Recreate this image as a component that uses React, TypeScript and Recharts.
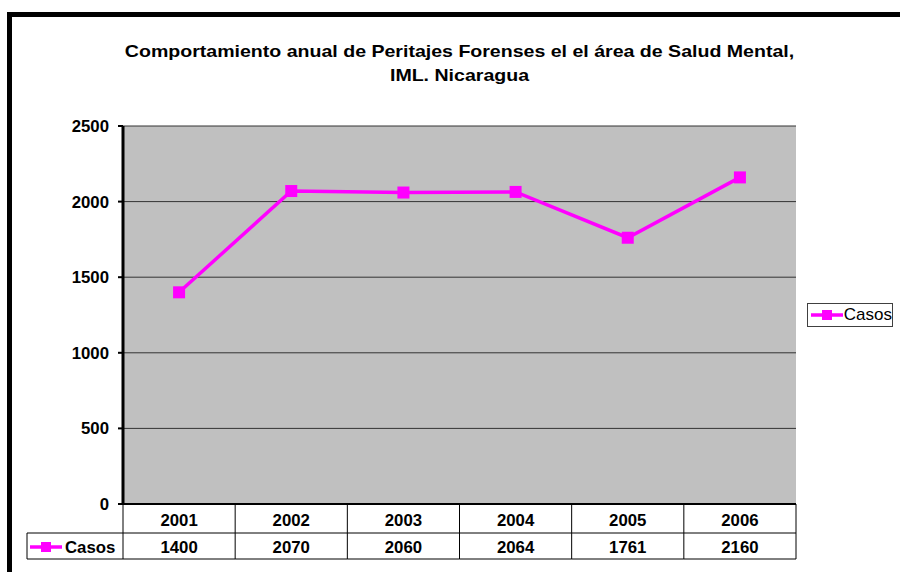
import React from 'react';
import { LineChart, Line, XAxis, YAxis, CartesianGrid, Legend } from 'recharts';

const years = ['2001', '2002', '2003', '2004', '2005', '2006'];
const casos = [1400, 2070, 2060, 2064, 1761, 2160];
const yTicks = [0, 500, 1000, 1500, 2000, 2500];
const seriesName = 'Casos';

const data = years.map((year, i) => ({ year, casos: casos[i] }));

const FONT = '"Liberation Sans", Arial, sans-serif';
const MAGENTA = '#FF00FF';
const LABEL_SIZE = 16.8;

// plot geometry
const PLOT_LEFT = 123;
const PLOT_RIGHT = 796;
const PLOT_BOTTOM = 504;
const ROW1 = 533;
const ROW2 = 559;
const TABLE_LEFT = 27;
const BAND = (PLOT_RIGHT - PLOT_LEFT) / years.length;

const SquareDot = (props: any) => {
  const { cx, cy, index } = props;
  return <rect key={`dot-${index}`} x={cx - 6} y={cy - 6} width={12} height={12} fill={MAGENTA} />;
};

const LegendKey = ({ x, y }: { x: number; y: number }) => (
  <g>
    <line x1={x} y1={y} x2={x + 32} y2={y} stroke={MAGENTA} strokeWidth={3.5} />
    <rect x={x + 11} y={y - 5} width={10} height={10} fill={MAGENTA} />
  </g>
);

// Each x tick draws its column of the data table
const TableTick = (props: any) => {
  const { x, payload } = props;
  const i = payload.index;
  const left = x - BAND / 2;
  const right = x + BAND / 2;
  return (
    <g>
      {i === 0 && (
        <g>
          <line x1={TABLE_LEFT} y1={ROW1} x2={PLOT_LEFT} y2={ROW1} stroke="#000" />
          <line x1={TABLE_LEFT} y1={ROW2} x2={PLOT_LEFT} y2={ROW2} stroke="#000" />
          <line x1={TABLE_LEFT} y1={ROW1} x2={TABLE_LEFT} y2={ROW2} stroke="#000" />
          <line x1={PLOT_LEFT} y1={PLOT_BOTTOM} x2={PLOT_LEFT} y2={ROW2} stroke="#000" />
          <LegendKey x={30} y={547} />
          <text x={65} y={553} fontFamily={FONT} fontWeight="bold" fontSize={LABEL_SIZE} fill="#000">
            {seriesName}
          </text>
        </g>
      )}
      <line x1={left} y1={ROW1} x2={right} y2={ROW1} stroke="#000" />
      <line x1={left} y1={ROW2} x2={right} y2={ROW2} stroke="#000" />
      <line x1={right} y1={PLOT_BOTTOM} x2={right} y2={ROW2} stroke="#000" />
      <text x={x} y={526} textAnchor="middle" fontFamily={FONT} fontWeight="bold" fontSize={LABEL_SIZE} fill="#000">
        {payload.value}
      </text>
      <text x={x} y={553} textAnchor="middle" fontFamily={FONT} fontWeight="bold" fontSize={LABEL_SIZE} fill="#000">
        {casos[i]}
      </text>
    </g>
  );
};

const LegendBox = () => (
  <div
    style={{
      width: 84,
      height: 22,
      border: '1px solid #404040',
      background: '#fff',
      display: 'flex',
      alignItems: 'center',
      fontFamily: FONT,
      fontSize: 17,
      color: '#000',
    }}
  >
    <svg width={38} height={22}>
      <LegendKey x={3} y={11} />
    </svg>
    <span>{seriesName}</span>
  </div>
);

export default function App() {
  return (
    <div style={{ position: 'absolute', left: 0, top: 0, width: 900, height: 572, background: '#fff', overflow: 'hidden' }}>
      {/* thick frame edges */}
      <div style={{ position: 'absolute', left: 7, top: 12, width: 5, height: 560, background: '#000' }} />
      <div style={{ position: 'absolute', left: 7, top: 12, width: 893, height: 5, background: '#000' }} />

      <div
        style={{
          position: 'absolute',
          left: 60,
          top: 40,
          width: 799,
          textAlign: 'center',
          fontFamily: FONT,
          fontWeight: 'bold',
          fontSize: 17,
          lineHeight: '24px',
          color: '#000',
          transform: 'scaleX(1.15)',
          transformOrigin: '50% 50%',
        }}
      >
        Comportamiento anual de Peritajes Forenses el el área de Salud Mental,
        <br />
        IML. Nicaragua
      </div>

      <LineChart
        width={900}
        height={572}
        data={data}
        margin={{ top: 126, right: 900 - PLOT_RIGHT, bottom: 13, left: 0 }}
        style={{ position: 'absolute', left: 0, top: 0 }}
      >
        <CartesianGrid vertical={false} fill="#C0C0C0" stroke="#333" strokeWidth={1} />
        <XAxis
          dataKey="year"
          height={55}
          interval={0}
          padding={{ left: BAND / 2, right: BAND / 2 }}
          tickLine={false}
          axisLine={{ stroke: '#000', strokeWidth: 2 }}
          tick={<TableTick />}
        />
        <YAxis
          width={PLOT_LEFT}
          domain={[0, 2500]}
          ticks={yTicks}
          tickSize={5}
          tickMargin={9}
          axisLine={{ stroke: '#000', strokeWidth: 3 }}
          tickLine={{ stroke: '#000', strokeWidth: 2 }}
          tick={{ fontFamily: FONT, fontWeight: 'bold', fontSize: LABEL_SIZE, fill: '#000' }}
        />
        <YAxis
          yAxisId="r"
          orientation="right"
          width={0}
          domain={[0, 2500]}
          tick={false}
          tickLine={false}
          axisLine={{ stroke: '#808080', strokeWidth: 1 }}
        />
        <Legend
          layout="vertical"
          align="center"
          verticalAlign="middle"
          content={<LegendBox />}
          wrapperStyle={{ left: 807, top: 303, width: 86, height: 24 }}
        />
        <Line
          type="linear"
          dataKey="casos"
          name={seriesName}
          stroke={MAGENTA}
          strokeWidth={3.5}
          dot={SquareDot}
          activeDot={false}
          isAnimationActive={false}
        />
      </LineChart>
    </div>
  );
}
